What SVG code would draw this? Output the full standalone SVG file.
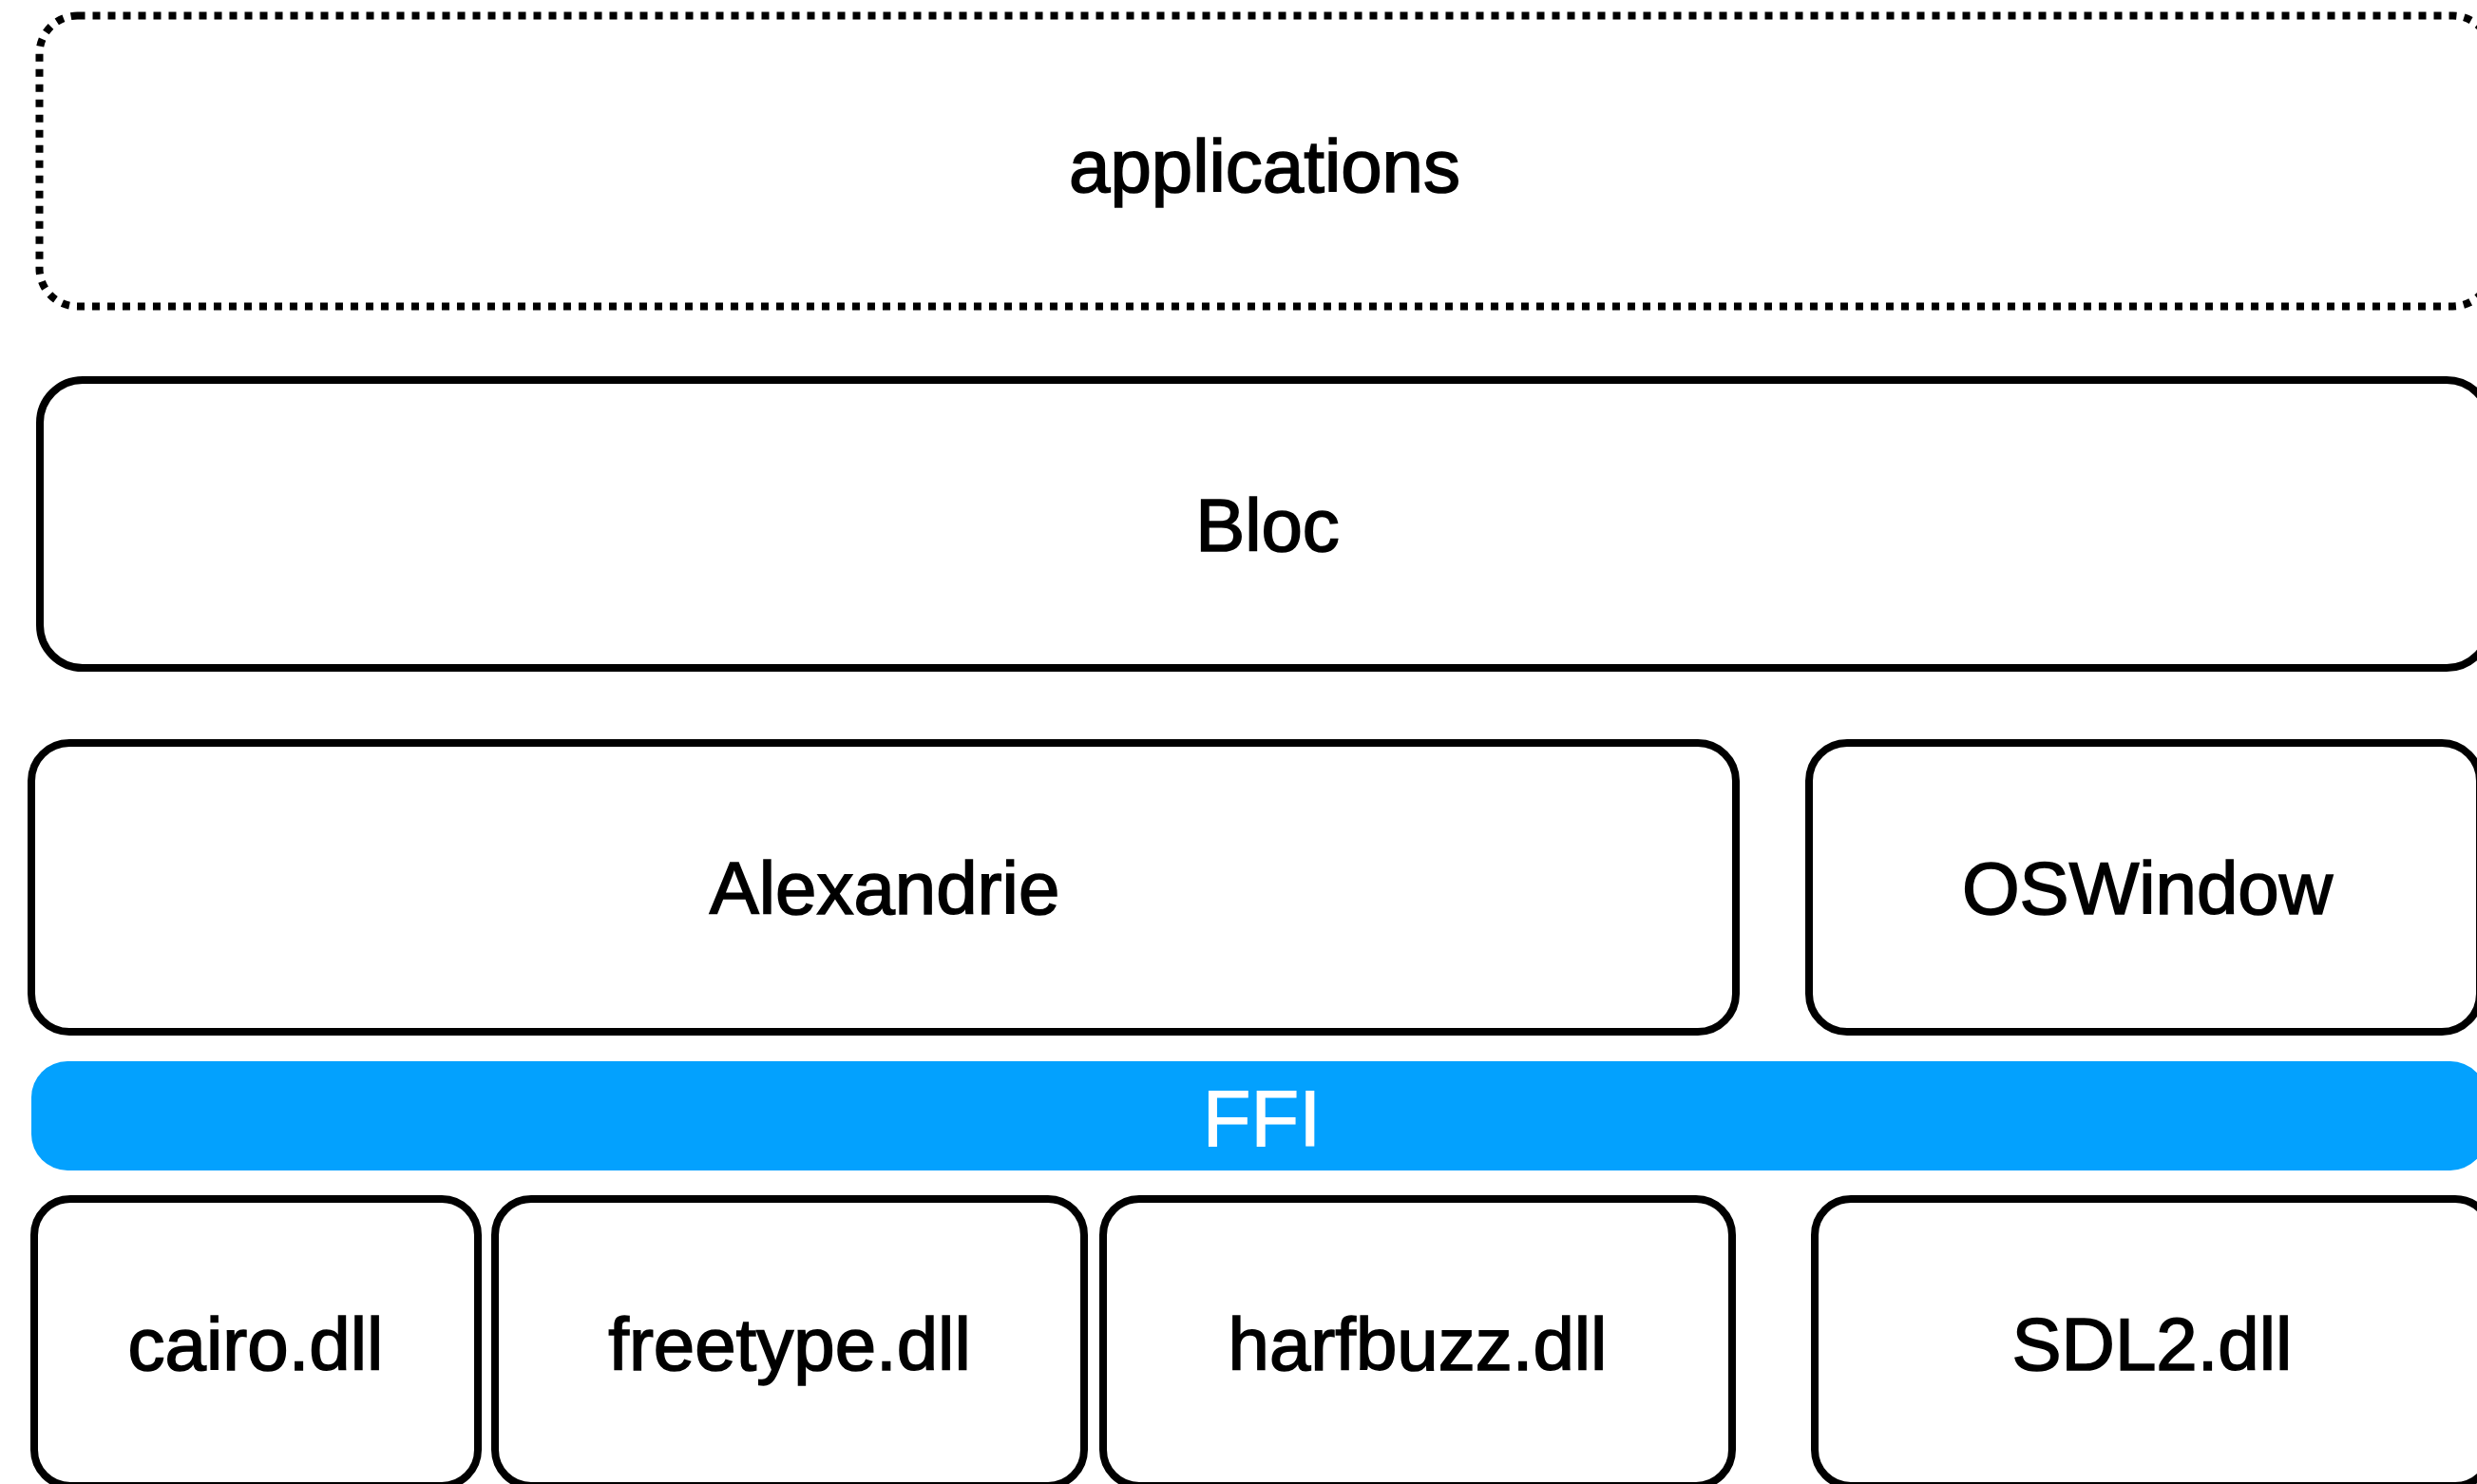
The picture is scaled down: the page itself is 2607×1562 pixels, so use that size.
<svg xmlns="http://www.w3.org/2000/svg" width="2607" height="1562" viewBox="0 0 2607 1562">
  <style>
    .box { fill: #ffffff; stroke: #000000; stroke-width: 8; }
    .dotted { fill: #ffffff; stroke: #000000; stroke-width: 8; stroke-dasharray: 8 8; }
    .ffi { fill: #03A1FE; stroke: none; }
    .lbl { font-family: "Liberation Sans", Arial, Helvetica, sans-serif; font-size: 78px; fill: #000000; stroke: #000000; stroke-width: 1.6; text-anchor: middle; }
    .lblw { font-family: "Liberation Sans", Arial, Helvetica, sans-serif; font-size: 83px; fill: #ffffff; stroke: #ffffff; stroke-width: 1.2; text-anchor: middle; }
  </style>
  <rect width="2607" height="1562" fill="#ffffff"/>
  <g id="applications">
    <rect class="dotted" x="41.5" y="16.5" width="2580" height="306" rx="40" ry="40"/>
    <text class="lbl" x="1331" y="202">applications</text>
  </g>
  <g id="bloc">
    <rect class="box" x="42" y="400" width="2578" height="303" rx="45" ry="45"/>
    <text class="lbl" x="1334" y="580">Bloc</text>
  </g>
  <g id="alexandrie">
    <rect class="box" x="33" y="782" width="1794" height="304" rx="40" ry="40"/>
    <text class="lbl" x="931" y="962">Alexandrie</text>
  </g>
  <g id="oswindow">
    <rect class="box" x="1904" y="782" width="706" height="304" rx="40" ry="40"/>
    <text class="lbl" x="2260" y="962">OSWindow</text>
  </g>
  <g id="ffi">
    <rect class="ffi" x="33" y="1117" width="2584" height="115" rx="38" ry="38"/>
    <text class="lblw" x="1328" y="1206">FFI</text>
  </g>
  <g id="cairo">
    <rect class="box" x="36" y="1262" width="467" height="302" rx="38" ry="38"/>
    <text class="lbl" x="269" y="1442">cairo.dll</text>
  </g>
  <g id="freetype">
    <rect class="box" x="521" y="1262" width="620" height="302" rx="38" ry="38"/>
    <text class="lbl" x="831" y="1442">freetype.dll</text>
  </g>
  <g id="harfbuzz">
    <rect class="box" x="1161" y="1262" width="662" height="302" rx="38" ry="38"/>
    <text class="lbl" x="1492" y="1442">harfbuzz.dll</text>
  </g>
  <g id="sdl2">
    <rect class="box" x="1910" y="1262" width="712" height="302" rx="38" ry="38"/>
    <text class="lbl" x="2265" y="1442">SDL2.dll</text>
  </g>
  <g id="connectors"></g>
</svg>
